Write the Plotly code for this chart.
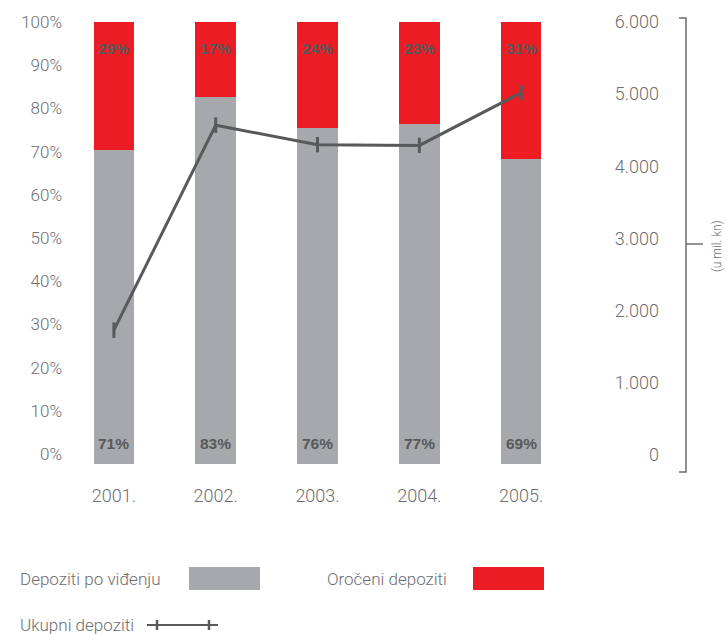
import plotly.graph_objects as go

# Deposit structure by year
years = ["2001.", "2002.", "2003.", "2004.", "2005."]
demand_pct = [71, 83, 76, 77, 69]      # Depoziti po viđenju (%)
term_pct = [29, 17, 24, 23, 31]        # Oročeni depoziti (%)
total_deposits = [1730, 4570, 4300, 4290, 5020]  # Ukupni depoziti (u mil. kn)

pct_ticks = list(range(0, 101, 10))
pct_labels = [f"{v}%" for v in pct_ticks]
amount_ticks = list(range(0, 6001, 1000))

GREY = "#a7a8ac"
RED = "#ed1c24"
DARK = "#58595b"
TEXT = "#6d6e71"
FONT = "Roboto, Liberation Sans, Arial, sans-serif"
BOLD_FONT = "Liberation Sans, Arial, sans-serif"

W, H = 727, 634
L, R, T, B = 63, 690, 22, 464  # plot area in pixels


def px(x):
    return (x - L) / (R - L)


def py(y):
    return (B - y) / (B - T)


fig = go.Figure()

fig.add_trace(go.Bar(
    x=years, y=demand_pct, name="Depoziti po viđenju",
    marker=dict(color=GREY, line=dict(width=0)), width=0.4,
    yaxis="y", hoverinfo="skip"))
fig.add_trace(go.Bar(
    x=years, y=term_pct, name="Oročeni depoziti",
    marker=dict(color=RED, line=dict(width=0)), width=0.4,
    yaxis="y", hoverinfo="skip"))
# empty trace so the percentage label axis is rendered
fig.add_trace(go.Scatter(x=[], y=[], yaxis="y2", showlegend=False))
fig.add_trace(go.Scatter(
    x=years, y=total_deposits, name="Ukupni depoziti", yaxis="y3",
    mode="lines+markers",
    line=dict(color=DARK, width=3),
    marker=dict(symbol="line-ns", size=11, line=dict(color=DARK, width=3))))

annotations = []
lab_font = dict(family=BOLD_FONT, size=15.5, color=DARK)
for i, (d, t) in enumerate(zip(demand_pct, term_pct)):
    annotations.append(dict(x=i, y=0, xref="x", yref="y", yshift=21,
                            xanchor="center", yanchor="middle",
                            text=f"<b>{d}%</b>", showarrow=False, font=lab_font))
    annotations.append(dict(x=i, y=100, xref="x", yref="y", yshift=-26,
                            xanchor="center", yanchor="middle",
                            text=f"<b>{t}%</b>", showarrow=False, font=lab_font))

# right axis unit label
annotations.append(dict(x=px(717), y=py(246), xref="paper", yref="paper",
                        xanchor="center", yanchor="middle",
                        text="(u mil. kn)", textangle=-90, showarrow=False,
                        font=dict(family=FONT, size=12, color=TEXT, weight=300)))

# legend texts
leg_font = dict(family=FONT, size=17, color=TEXT, weight=300)
for txt, x0, y0 in [("Depoziti po viđenju", 18, 579),
                    ("Oročeni depoziti", 325, 579),
                    ("Ukupni depoziti", 18, 625)]:
    annotations.append(dict(x=px(x0), y=py(y0), xref="paper", yref="paper",
                            xanchor="left", yanchor="middle",
                            text=txt, showarrow=False, font=leg_font))

shapes = [
    # bracket of the amount axis
    dict(type="path", xref="paper", yref="paper",
         path=f"M {px(679)} {py(18)} L {px(686)} {py(18)} L {px(686)} {py(472)} L {px(679)} {py(472)}",
         line=dict(color=TEXT, width=1.5)),
    dict(type="line", xref="paper", yref="paper",
         x0=px(686), x1=px(703), y0=py(244), y1=py(244),
         line=dict(color=TEXT, width=1.5)),
    # legend swatches
    dict(type="rect", xref="paper", yref="paper",
         x0=px(189), x1=px(260), y0=py(567), y1=py(590),
         fillcolor=GREY, line=dict(width=0)),
    dict(type="rect", xref="paper", yref="paper",
         x0=px(473), x1=px(544), y0=py(567), y1=py(590),
         fillcolor=RED, line=dict(width=0)),
    dict(type="line", xref="paper", yref="paper",
         x0=px(147), x1=px(218), y0=py(625), y1=py(625),
         line=dict(color=DARK, width=2)),
    dict(type="line", xref="paper", yref="paper",
         x0=px(157), x1=px(157), y0=py(620), y1=py(630),
         line=dict(color=DARK, width=2.5)),
    dict(type="line", xref="paper", yref="paper",
         x0=px(209), x1=px(209), y0=py(620), y1=py(630),
         line=dict(color=DARK, width=2.5)),
]

tick_font = dict(family=FONT, size=18, color=TEXT, weight=300)
pct_font = dict(family=FONT, size=17, color=TEXT, weight=300)

fig.update_layout(
    width=W, height=H,
    margin=dict(l=L, r=W - R, t=T, b=H - B),
    paper_bgcolor="white", plot_bgcolor="white",
    barmode="stack", showlegend=False,
    separators=",.",
    xaxis=dict(type="category", domain=[0, (572 - L) / (R - L)],
               range=[-0.5, 4.5],
               showgrid=False, zeroline=False, showline=False, ticks="",
               tickfont=tick_font, ticklabelstandoff=19),
    yaxis=dict(type="linear", range=[0, 100], showticklabels=False,
               showgrid=False, zeroline=False, showline=False, ticks="",
               fixedrange=True),
    yaxis2=dict(type="linear", overlaying="y", side="left", anchor="x",
                range=[-2.31, 100], tickmode="array",
                tickvals=pct_ticks, ticktext=pct_labels,
                showgrid=False, zeroline=False, showline=False, ticks="",
                tickfont=pct_font),
    yaxis3=dict(type="linear", overlaying="y", side="left", anchor="free",
                position=px(686), range=[-125, 6000],
                tickvals=amount_ticks, tickformat=",d",
                showgrid=False, zeroline=False, showline=False, ticks="",
                tickfont=tick_font, ticklabelstandoff=27),
    annotations=annotations,
    shapes=shapes,
)

fig.write_html("out.html")
